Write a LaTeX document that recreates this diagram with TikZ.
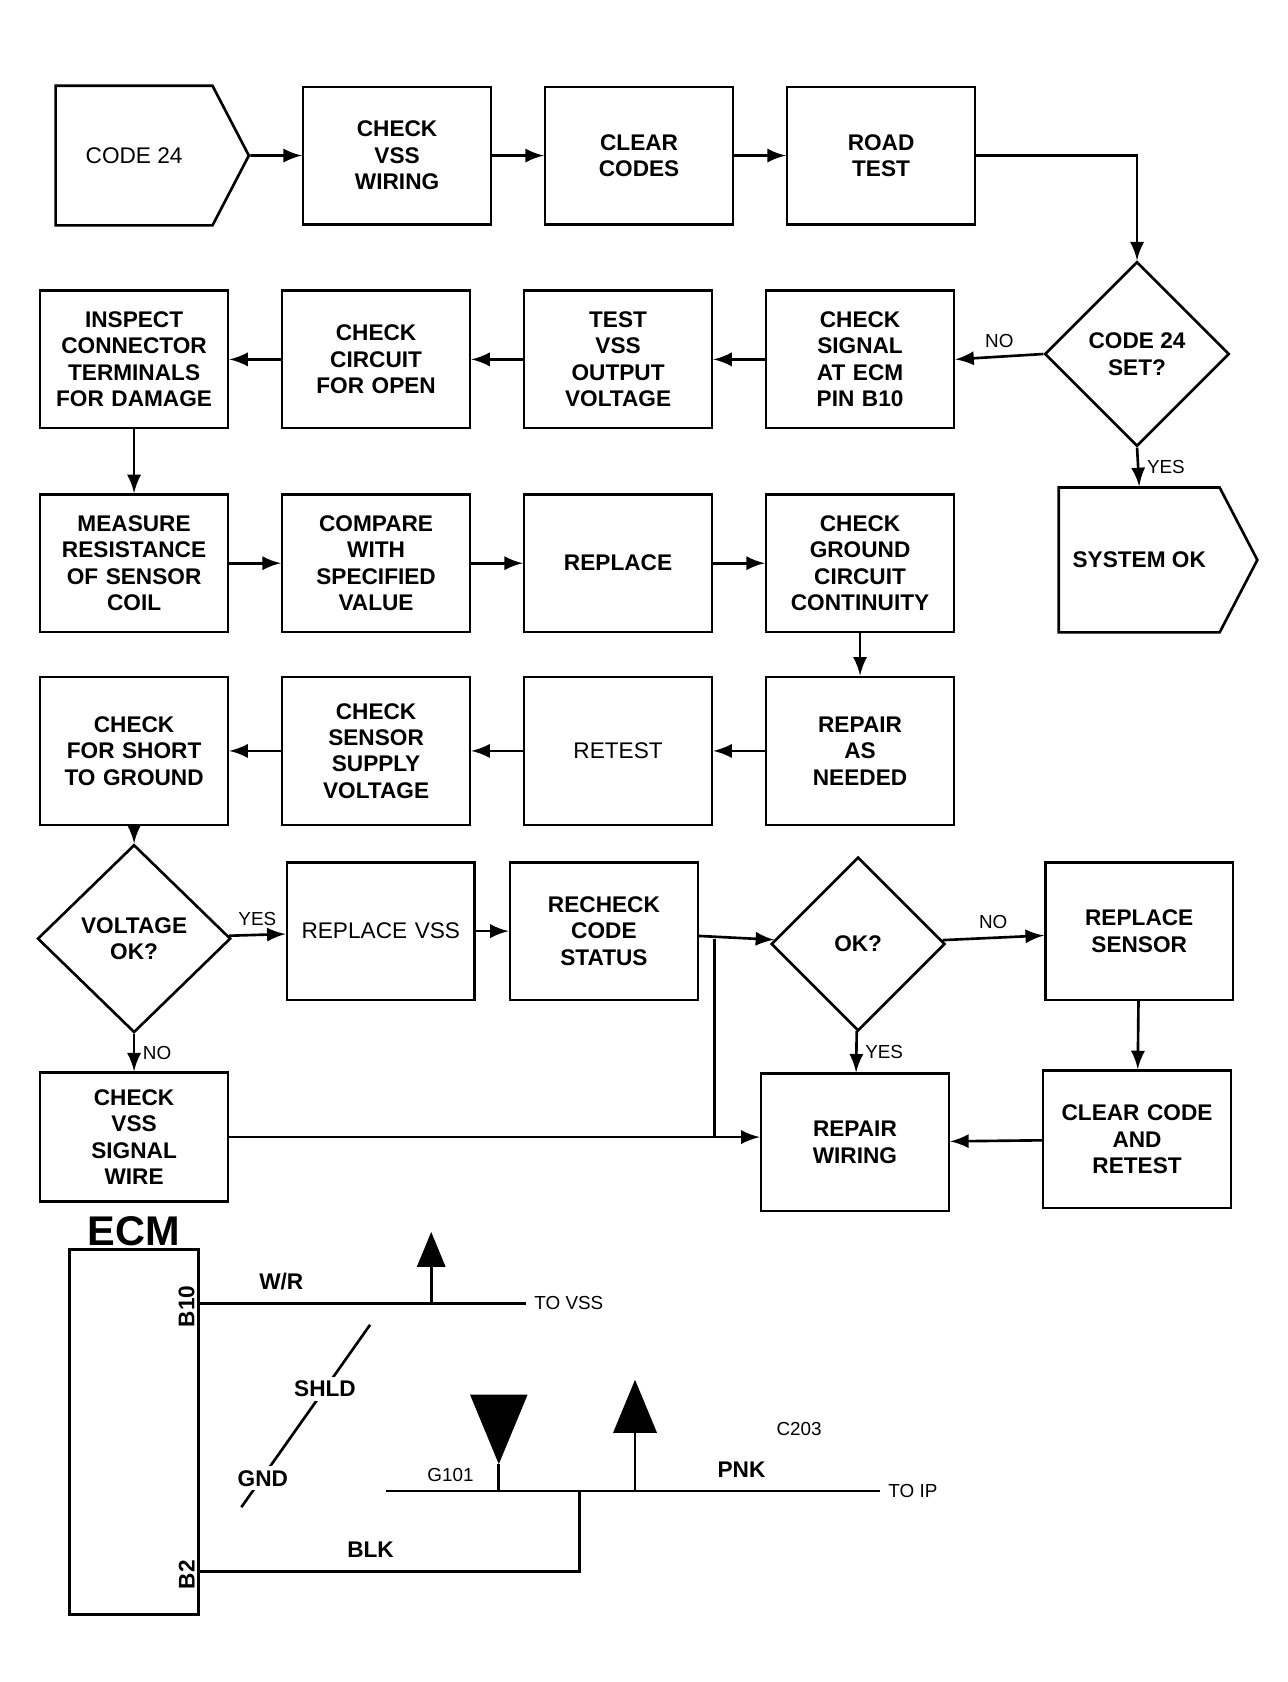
\documentclass[tikz,border=0pt]{standalone}
\usepackage{fontspec}
\setmainfont{Liberation Sans}
\usetikzlibrary{positioning,shapes.geometric,shapes.symbols}

\begin{document}
\begin{tikzpicture}[x=0.01cm, y=-0.01cm, node distance=0.48cm, >=latex, font=\fontsize{6}{7}\selectfont\bfseries, line width=0.7pt]
        \tikzstyle{block} = [rectangle, draw, align=center, text width=1.6cm, minimum width=1.75cm, minimum height=1.28cm, inner sep=1pt]
        \tikzstyle{check} = [diamond, draw, align=center, aspect=1, minimum width=1.72cm, minimum height=1.72cm, inner sep=0pt]
        \tikzstyle{term} = [signal, signal to=east, signal pointer angle=125, draw, align=center, minimum width=1.8cm, minimum height=1.3cm]
        \tikzstyle{tag} = [font=\fontsize{5}{6}\selectfont, inner sep=2pt]
        \tikzstyle{lite} = [font=\fontsize{6}{7}\selectfont]
        \useasboundingbox (0,0) rectangle (1200,1568);

        % row 1
        \node[term, lite] (start) at (125,145) {CODE 24};
        \node[block, right=of start] (vss) {CHECK\\VSS\\WIRING};
        \node[block, right=of vss] (clr) {CLEAR\\CODES};
        \node[block, right=of clr] (road) {ROAD\\TEST};
        \node[check] (again) at (1060,330) {CODE 24\\SET?};
        \node[term, minimum width=1.85cm, minimum height=1.35cm] (done) at (1062,522) {SYSTEM OK};

        % row 2
        \node[block] (conn) at (125,335) {INSPECT\\CONNECTOR\\TERMINALS\\FOR DAMAGE};
        \node[block, right=of conn] (open) {CHECK\\CIRCUIT\\FOR OPEN};
        \node[block, right=of open] (volt) {TEST\\VSS\\OUTPUT\\VOLTAGE};
        \node[block, right=of volt] (pin) {CHECK\\SIGNAL\\AT ECM\\PIN B10};

        % row 3
        \node[block] (ohm) at (125,525) {MEASURE\\RESISTANCE\\OF SENSOR\\COIL};
        \node[block, right=of ohm] (spec) {COMPARE\\WITH\\SPECIFIED\\VALUE};
        \node[block, right=of spec] (repl) {REPLACE};
        \node[block, right=of repl] (gnd) {CHECK\\GROUND\\CIRCUIT\\CONTINUITY};

        % row 4
        \node[block, minimum height=1.38cm] (short) at (125,700) {CHECK\\FOR SHORT\\TO GROUND};
        \node[block, minimum height=1.38cm, right=of short] (supply) {CHECK\\SENSOR\\SUPPLY\\VOLTAGE};
        \node[block, minimum height=1.38cm, right=of supply, lite] (retest) {RETEST};
        \node[block, minimum height=1.38cm, right=of retest] (fix) {REPAIR\\AS\\NEEDED};

        % row 5
        \node[check, minimum width=1.8cm, minimum height=1.75cm] (vok) at (125,875) {VOLTAGE\\OK?};
        \node[block, lite] (newvss) at (355,868) {REPLACE VSS\\[10pt]};
        \node[block] (status) at (563,868) {RECHECK\\CODE\\STATUS\\[4pt]};
        \node[check, minimum width=1.62cm, minimum height=1.62cm] (ok) at (800,880) {OK?};
        \node[block] (sensor) at (1062,868) {REPLACE\\SENSOR};

        % row 6
        \node[block, minimum height=1.2cm] (wire) at (125,1060) {CHECK\\VSS\\SIGNAL\\WIRE};
        \node[block] (rewire) at (797,1065) {REPAIR\\WIRING};
        \node[block] (verify) at (1060,1062) {CLEAR CODE\\AND\\RETEST};

        % flow
        \draw[->] (start) -- (vss);
        \draw[->] (vss) -- (clr);
        \draw[->] (clr) -- (road);
        \draw[->] (road.east) -| (again.north);
        \draw[->] (again.west) -- node[tag, above]{NO} (pin.east);
        \draw[->] (again.south) -- node[tag, right]{YES} (done.north);
        \draw[->] (pin) -- (volt);
        \draw[->] (volt) -- (open);
        \draw[->] (open) -- (conn);
        \draw[->] (conn) -- (ohm);
        \draw[->] (ohm) -- (spec);
        \draw[->] (spec) -- (repl);
        \draw[->] (repl) -- (gnd);
        \draw[->] (gnd) -- (fix);
        \draw[->] (fix) -- (retest);
        \draw[->] (retest) -- (supply);
        \draw[->] (supply) -- (short);
        \draw[->] (short) -- (vok);
        \draw[->] (vok) -- node[tag, above]{YES} (newvss);
        \draw[->] (newvss) -- (status);
        \draw[->] (status) -- (ok);
        \draw[->] (ok) -- node[tag, above]{NO} (sensor);
        \draw[->] (ok) -- node[tag, right]{YES} (rewire);
        \draw[->] (sensor) -- (verify);
        \draw[->] (verify) -- (rewire);
        \draw[->] (vok) -- node[tag, right]{NO} (wire);
        \draw[->] (wire.east) -- (rewire.west |- wire.east);
        \coordinate (tee) at (666,875);
        \coordinate (foot) at (666,1060);
        \draw (tee) -- (foot);

        % wiring sketch
        \node[font=\fontsize{11}{12}\selectfont\bfseries] (ecmtag) at (125,1148) {ECM};
        \node[draw, minimum width=1.2cm, minimum height=3.4cm] (ecm) at (125,1335) {};
        \node[rotate=90] (pa) at (174,1218) {B10};
        \node[rotate=90] (pb) at (174,1468) {B2};
        \coordinate (w1) at (385,1215);
        \coordinate (w2) at (490,1215);
        \draw (ecm.east |- w1) -- node[pos=0.25, above]{W/R} (w2);
        \node[isosceles triangle, shape border rotate=90, fill, draw, minimum width=0.22cm, minimum height=0.28cm, inner sep=0pt] (spl) at (402,1172) {};
        \draw (spl.south) -- (402,1215);
        \node[tag, right=0pt of w2] (tovss) {TO VSS};
        \coordinate (d1) at (345,1235);
        \coordinate (d2) at (225,1405);
        \draw (d1) -- (d2);
        \node[fill=white, inner sep=1pt] (shld) at (303,1295) {SHLD};
        \node[fill=white, inner sep=1pt] (sgnd) at (245,1378) {GND};
        \coordinate (w3) at (360,1390);
        \coordinate (w4) at (820,1390);
        \draw (w3) -- node[pos=0.72, above]{PNK} (w4);
        \node[tag, right=0pt of w4] (toip) {TO IP};
        \node[isosceles triangle, shape border rotate=270, fill, draw, minimum width=0.5cm, minimum height=0.4cm, inner sep=0pt] (gsym) at (465,1318) {};
        \draw (gsym.south) -- (465,1390);
        \node[tag] (glbl) at (420,1375) {G101};
        \node[isosceles triangle, shape border rotate=90, fill, draw, minimum width=0.35cm, minimum height=0.45cm, inner sep=0pt] (csym) at (592,1322) {};
        \draw (csym.south) -- (592,1390);
        \node[tag] (clbl) at (745,1332) {C203};
        \coordinate (b1) at (540,1465);
        \draw (ecm.east |- b1) -- node[pos=0.45, above]{BLK} (b1) -- (540,1390);
\end{tikzpicture}
\end{document}
